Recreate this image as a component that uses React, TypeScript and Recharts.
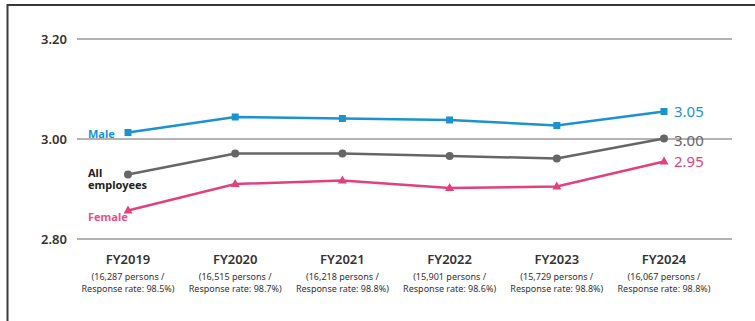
import { LineChart, Line, XAxis, YAxis, CartesianGrid, LabelList, Customized } from 'recharts'

const years = ['FY2019', 'FY2020', 'FY2021', 'FY2022', 'FY2023', 'FY2024']
const persons = ['16,287', '16,515', '16,218', '15,901', '15,729', '16,067']
const responseRates = ['98.5%', '98.7%', '98.8%', '98.6%', '98.8%', '98.8%']
const male = [3.013, 3.044, 3.041, 3.038, 3.027, 3.055]
const allEmployees = [2.929, 2.971, 2.971, 2.966, 2.961, 3.001]
const female = [2.857, 2.91, 2.917, 2.902, 2.905, 2.955]
const yTicks = [2.8, 3.0, 3.2]
const endLabels = { male: '3.05', all: '3.00', female: '2.95' }

const BLUE = '#1a93d0'
const GRAY = '#666666'
const PINK = '#e2417d'
const FONT = '"Noto Sans", "Open Sans", sans-serif'

const data = years.map((year, i) => ({
  year,
  persons: persons[i],
  rate: responseRates[i],
  male: male[i],
  all: allEmployees[i],
  female: female[i],
}))

const SquareDot = (props: any) => {
  const { cx, cy } = props
  return <rect x={cx - 3.5} y={cy - 3.5} width={7} height={7} fill={BLUE} />
}

const CircleDot = (props: any) => {
  const { cx, cy } = props
  return <circle cx={cx} cy={cy} r={4} fill={GRAY} />
}

const TriangleDot = (props: any) => {
  const { cx, cy } = props
  return <path d={`M${cx},${cy - 5} L${cx + 4.5},${cy + 3} L${cx - 4.5},${cy + 3} Z`} fill={PINK} />
}

const XTick = ({ x, y, index }: any) => {
  const d = data[index]
  return (
    <g fontFamily={FONT} fill="#333">
      <text x={x} y={y + 17} textAnchor="middle" fontSize={13} fontWeight={600}>
        {d.year}
      </text>
      <text x={x} y={y + 33} textAnchor="middle" fontSize={9}>
        ({d.persons} persons /
      </text>
      <text x={x} y={y + 45} textAnchor="middle" fontSize={9}>
        Response rate: {d.rate})
      </text>
    </g>
  )
}

const YTick = ({ x, y, payload }: any) => (
  <text x={x - 2} y={y + 5} textAnchor="end" fontSize={13} fontWeight={600} fill="#333" fontFamily={FONT}>
    {payload.value.toFixed(2)}
  </text>
)

const seriesLabel = (kind: 'male' | 'all' | 'female') => (props: any) => {
  const { x, y, index } = props
  if (index === years.length - 1) {
    const color = kind === 'male' ? BLUE : kind === 'all' ? GRAY : PINK
    const dy = kind === 'male' ? 5 : kind === 'all' ? 7 : 5
    return (
      <text x={x + 10} y={y + dy} fontSize={15} fill={color} fontFamily={FONT}>
        {endLabels[kind]}
      </text>
    )
  }
  if (index !== 0) return null
  if (kind === 'male') {
    return (
      <text x={x - 40} y={y + 5} fontSize={11} fontWeight={700} fill={BLUE} fontFamily={FONT}>
        Male
      </text>
    )
  }
  if (kind === 'all') {
    return (
      <text x={x - 40} fontSize={11} fontWeight={700} fill="#222" fontFamily={FONT}>
        <tspan x={x - 40} y={y + 2}>All</tspan>
        <tspan x={x - 40} y={y + 14}>employees</tspan>
      </text>
    )
  }
  return (
    <text x={x - 40} y={y + 10} fontSize={11} fontWeight={700} fill="#e8508a" fontFamily={FONT}>
      Female
    </text>
  )
}

// outer frame: top and left edges only
const Frame = () => (
  <g>
    <line x1={7.5} y1={4} x2={7.5} y2={330} stroke="#3a3a3a" strokeWidth={2} />
    <line x1={7} y1={5} x2={760} y2={5} stroke="#3a3a3a" strokeWidth={2} />
  </g>
)

export default function App() {
  return (
    <div style={{ position: 'absolute', left: 0, top: 0, width: 755, height: 321, overflow: 'hidden', background: '#fff' }}>
      <LineChart
        width={755}
        height={321}
        data={data}
        margin={{ top: 39, right: 23, bottom: 0, left: 7 }}
      >
        <CartesianGrid vertical={false} stroke="#9a9a9a" strokeWidth={1.5} />
        <XAxis
          dataKey="year"
          axisLine={false}
          tickLine={false}
          padding={{ left: 51, right: 68 }}
          interval={0}
          tick={<XTick />}
          height={82}
        />
        <YAxis
          domain={[2.8, 3.2]}
          ticks={yTicks}
          axisLine={false}
          tickLine={false}
          width={70}
          tick={<YTick />}
        />
        <Customized component={Frame} />
        <Line dataKey="all" stroke={GRAY} strokeWidth={2.5} dot={<CircleDot />} isAnimationActive={false}>
          <LabelList dataKey="all" content={seriesLabel('all')} />
        </Line>
        <Line dataKey="female" stroke={PINK} strokeWidth={2.5} dot={<TriangleDot />} isAnimationActive={false}>
          <LabelList dataKey="female" content={seriesLabel('female')} />
        </Line>
        <Line dataKey="male" stroke={BLUE} strokeWidth={2.5} dot={<SquareDot />} isAnimationActive={false}>
          <LabelList dataKey="male" content={seriesLabel('male')} />
        </Line>
      </LineChart>
    </div>
  )
}
